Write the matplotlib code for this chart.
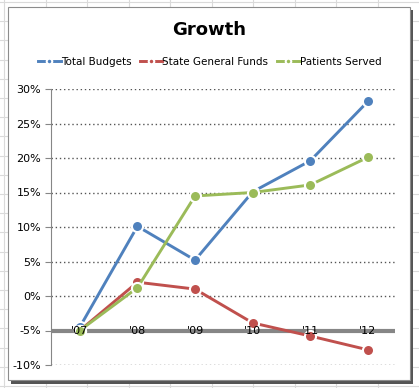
import matplotlib.pyplot as plt
import matplotlib.patches as mpatches
import numpy as np

years = ["'07", "'08", "'09", "'10", "'11", "'12"]
total_budgets = [-4.5, 10.1, 5.2, 15.1, 19.6, 28.2]
state_funds = [-5.0, 2.0, 1.0, -3.9, -5.8, -7.8]
patients = [-5.0, 1.2, 14.5, 15.0, 16.1, 20.1]

blue = '#4F81BD'
red = '#C0504D'
green = '#9BBB59'

fig = plt.figure(figsize=(4.19, 3.88), dpi=100)
fig.patch.set_facecolor('white')

# spreadsheet grid behind the chart
for xp in np.arange(4, 419, 41.5):
    fig.add_artist(plt.Line2D([xp/419, xp/419], [0, 1], color='#DADADA', lw=0.8, zorder=0))
for yp in np.arange(2, 388, 19.2):
    fig.add_artist(plt.Line2D([0, 1], [1-yp/388, 1-yp/388], color='#DADADA', lw=0.8, zorder=0))

# chart box with shadow
fig.add_artist(mpatches.Rectangle((11/419, 1-384/388), 402/419, 374/388,
                                  facecolor='#555555', edgecolor='none', zorder=1))
fig.add_artist(mpatches.Rectangle((8/419, 1-380/388), 402/419, 373/388,
                                  facecolor='white', edgecolor='#8C8C8C', lw=0.8, zorder=2))

ax = fig.add_axes([51/419, 1-365/388, 344/419, 276/388], zorder=3)
ax.set_facecolor('none')

x = np.arange(len(years))
for vals, col, lab in [(total_budgets, blue, 'Total Budgets'),
                       (state_funds, red, 'State General Funds'),
                       (patients, green, 'Patients Served')]:
    ax.plot(x, vals, '-o', color=col, lw=2.1, ms=8, mec='white', mew=1.5, label=lab)

ax.set_ylim(-10, 30)
ax.set_xlim(-0.5, 5.47)
ax.set_yticks(range(-10, 31, 5))
ax.set_yticklabels(['%d%%' % v for v in range(-10, 31, 5)], fontsize=8)
ax.yaxis.grid(True, linestyle=(0, (1, 2)), color='#555555', lw=1)
ax.set_axisbelow(True)
ax.set_xticks([])
for s in ['top', 'right', 'bottom']:
    ax.spines[s].set_visible(False)
ax.spines['left'].set_color('#868686')
ax.tick_params(axis='y', length=4, color='#868686', pad=3)

# horizontal axis crosses at -5%
ax.axhline(-5, color='#868686', lw=3, zorder=1.5)
for i, yr in enumerate(years):
    ax.text(i, -5, yr, ha='center', va='center', fontsize=8, zorder=2)

fig.text(0.5, 1-30/388, 'Growth', ha='center', va='center', fontsize=13, fontweight='bold', zorder=4)
leg = ax.legend(loc='center', bbox_to_anchor=(0.5, 1-62/388), bbox_transform=fig.transFigure,
                ncol=3, frameon=False, fontsize=7.5, markerscale=0.5, handlelength=2.2,
                handletextpad=0.0, columnspacing=0.8)

plt.savefig('out.png', dpi=100)
